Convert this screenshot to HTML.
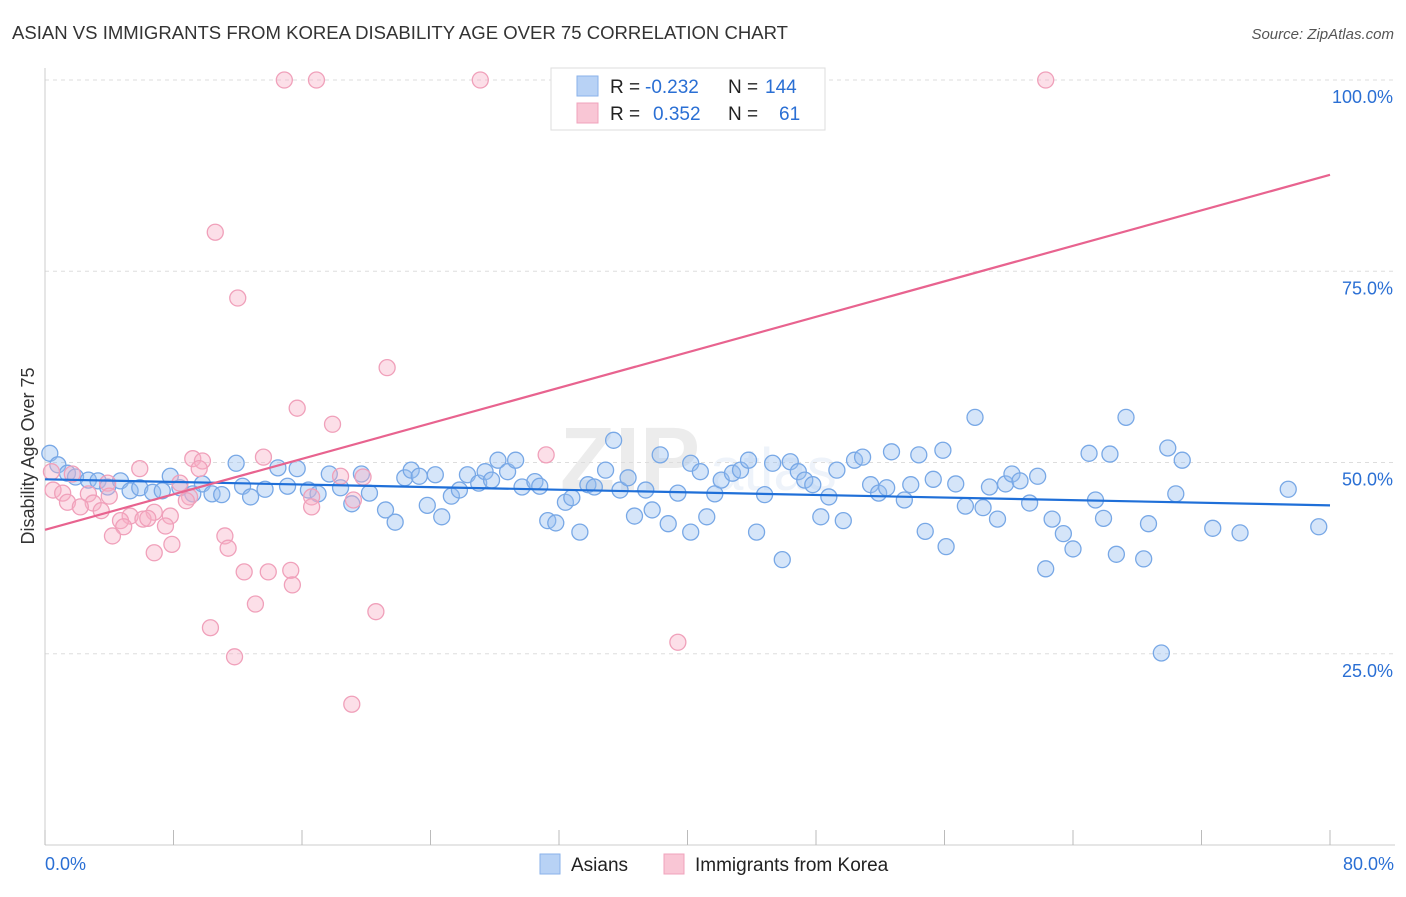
<!DOCTYPE html>
<html><head><meta charset="utf-8"><style>
body{margin:0;background:#fff;font-family:"Liberation Sans",sans-serif;}
svg text{font-family:"Liberation Sans",sans-serif;}
</style></head><body>
<svg id="chart" width="1406" height="892">
<text x="12" y="39" font-size="18" fill="#333" textLength="776" lengthAdjust="spacingAndGlyphs">ASIAN VS IMMIGRANTS FROM KOREA DISABILITY AGE OVER 75 CORRELATION CHART</text>
<text x="1394" y="39" font-size="15" fill="#555" text-anchor="end" font-style="italic">Source: ZipAtlas.com</text>
<text x="0" y="0" font-size="18" fill="#333" text-anchor="middle" transform="translate(34,456) rotate(-90)">Disability Age Over 75</text>
<text x="560" y="490" font-size="90" fill="#ececec" font-weight="bold" font-family="Liberation Serif">ZIP</text>
<text x="710" y="490" font-size="60" fill="#eef3fa">atlas</text>
<g id="grid"></g><g id="pts"></g><g id="lines"></g>
<g>
<rect x="551" y="68" width="274" height="62" fill="#fff" stroke="#ddd"/>
<rect x="577" y="76" width="21" height="20" fill="#b8d2f5" stroke="#8ab2ea"/>
<rect x="577" y="103" width="21" height="20" fill="#f9c6d5" stroke="#f0a3bc"/>
<text x="610" y="93" font-size="19" fill="#222">R =</text><text x="645" y="93" font-size="19" fill="#2a6fd4">-0.232</text>
<text x="728" y="93" font-size="19" fill="#222">N =</text><text x="765" y="93" font-size="19" fill="#2a6fd4">144</text>
<text x="610" y="120" font-size="19" fill="#222">R =</text><text x="653" y="120" font-size="19" fill="#2a6fd4">0.352</text>
<text x="728" y="120" font-size="19" fill="#222">N =</text><text x="779" y="120" font-size="19" fill="#2a6fd4">61</text>
</g>
<g>
<rect x="540" y="854" width="20" height="20" fill="#b8d2f5" stroke="#8ab2ea"/>
<text x="571" y="871" font-size="19" fill="#222">Asians</text>
<rect x="664" y="854" width="20" height="20" fill="#f9c6d5" stroke="#f0a3bc"/>
<text x="695" y="871" font-size="19" fill="#222">Immigrants from Korea</text>
</g>
</svg>
<script>
const yTicks=[25,50,75,100];
const xTickLabels=["0.0%","80.0%"];
const blueX=[0.3,0.8,1.4,1.9,2.7,3.3,3.9,4.7,5.3,5.9,6.7,7.3,7.8,8.4,9.2,9.8,10.4,11.0,11.9,12.3,12.8,13.7,14.5,15.1,15.7,16.4,17.0,17.7,18.4,19.1,19.7,20.2,21.2,21.8,22.4,22.8,23.3,23.8,24.3,24.7,25.3,25.8,26.3,27.0,27.4,27.8,28.2,28.8,29.3,29.7,30.5,30.8,31.3,31.8,32.4,32.8,33.3,33.8,34.2,34.9,35.4,35.8,36.3,36.7,37.4,37.8,38.3,38.8,39.4,40.2,40.2,40.8,41.2,41.7,42.1,42.8,43.3,43.8,44.3,44.8,45.3,45.9,46.4,46.9,47.3,47.8,48.3,48.8,49.3,49.7,50.4,50.9,51.4,51.9,52.4,52.7,53.5,53.9,54.4,54.8,55.3,55.9,56.1,56.7,57.3,57.9,58.4,58.8,59.3,59.8,60.2,60.7,61.3,61.8,62.3,62.7,63.4,64.0,65.0,65.4,65.9,66.3,66.7,67.3,68.4,68.7,69.5,69.9,70.4,70.8,72.7,74.4,77.4,79.3];
const blueY=[51.2,49.7,48.6,48.1,47.7,47.6,46.8,47.6,46.3,46.7,46.1,46.3,48.2,46.7,45.9,47.2,45.9,45.8,49.9,46.9,45.5,46.5,49.3,46.9,49.2,46.4,45.9,48.5,46.7,44.6,48.5,46.0,43.8,42.2,48.0,49.0,48.2,44.4,48.4,42.9,45.6,46.4,48.4,47.3,48.8,47.7,50.3,48.8,50.3,46.8,47.5,46.9,42.4,42.1,44.8,45.4,40.9,47.1,46.8,49.0,52.9,46.4,48.0,43.0,46.4,43.8,51.0,42.0,46.0,40.9,49.9,48.8,42.9,45.9,47.7,48.6,49.0,50.3,40.9,45.8,49.9,37.3,50.1,48.8,47.7,47.1,42.9,45.5,49.0,42.4,50.3,50.7,47.1,46.0,46.7,51.4,45.1,47.1,51.0,41.0,47.8,51.6,39.0,47.2,44.3,55.9,44.1,46.8,42.6,47.2,48.5,47.6,44.7,48.2,36.1,42.6,40.7,38.7,51.2,45.1,42.7,51.1,38.0,55.9,37.4,42.0,25.1,51.9,45.9,50.3,41.4,40.8,46.5,41.6];
const pinkX=[14.9,16.9,27.1,62.3,10.6,12.0,21.3,15.7,17.9,31.2,13.6,9.2,9.8,9.6,5.9,0.4,1.7,18.4,19.8,8.4,3.9,0.5,1.1,2.7,4.0,9.0,8.8,16.6,19.2,1.4,3.0,2.2,3.5,6.8,5.3,7.8,6.1,6.4,4.7,4.9,7.5,16.6,4.2,11.2,7.9,11.4,6.8,12.4,13.9,15.3,15.4,13.1,20.6,10.3,39.4,11.8,19.1];
const pinkY=[100,100,100,100,80.1,71.5,62.4,57.1,55.0,51.0,50.7,50.5,50.2,49.2,49.2,48.8,48.5,48.2,48.1,47.3,47.3,46.4,46.0,45.9,45.6,45.5,45.0,45.5,45.1,44.8,44.7,44.2,43.7,43.5,43.0,43.0,42.6,42.7,42.4,41.6,41.7,44.2,40.4,40.4,39.3,38.8,38.2,35.7,35.7,35.9,34.0,31.5,30.5,28.4,26.5,24.6,18.4];
const blueTrend=[47.8,44.4];
const pinkTrend=[41.2,87.6];
const NS="http://www.w3.org/2000/svg";
const sx=v=>45+v/80*1285, sy=v=>845-v*7.65;
function mk(t,a,p){const e=document.createElementNS(NS,t);for(const k in a)e.setAttribute(k,a[k]);p.appendChild(e);return e;}
const grid=document.getElementById('grid');
yTicks.forEach(t=>{
  const l=mk('line',{x1:45,x2:1395,y1:sy(t),y2:sy(t),stroke:'#ddd','stroke-dasharray':'4,4'},grid);
  
  
  const tx=mk('text',{x:1393,y:sy(t)+23,'font-size':18,fill:'#2a6fd4','text-anchor':'end'},grid);
  tx.textContent=t.toFixed(1)+'%';
  
  
});
const ax=mk('line',{x1:45,x2:45,y1:68,y2:845,stroke:'#ccc'},grid);


const bx=mk('line',{x1:45,x2:1395,y1:845,y2:845,stroke:'#ccc'},grid);


for(let i=0;i<=10;i++){
  const t=mk('line',{x1:sx(i*8),x2:sx(i*8),y1:830,y2:845,stroke:'#bbb'},grid);
  
  
}
[[0,xTickLabels[0],'start',45],[80,xTickLabels[1],'end',1394]].forEach(d=>{
  const tx=mk('text',{x:d[3],y:870,'font-size':18,fill:'#2a6fd4','text-anchor':d[2]},grid);
  tx.textContent=d[1];
  
  
});
const pts=document.getElementById('pts');
blueX.forEach((x,i)=>{
  const c=mk('circle',{cx:sx(x),cy:sy(blueY[i]),r:8,fill:'rgba(150,190,240,0.4)',stroke:'#78a8e6','stroke-width':1.3},pts);
  
  
});
pinkX.forEach((x,i)=>{
  const c=mk('circle',{cx:sx(x),cy:sy(pinkY[i]),r:8,fill:'rgba(248,175,198,0.4)',stroke:'#f0a0ba','stroke-width':1.3},pts);
  
  
});
const lines=document.getElementById('lines');
const bl=mk('line',{x1:sx(0),x2:sx(80),y1:sy(blueTrend[0]),y2:sy(blueTrend[1]),stroke:'#1f6fd8','stroke-width':2.2},lines);


const pl=mk('line',{x1:sx(0),x2:sx(80),y1:sy(pinkTrend[0]),y2:sy(pinkTrend[1]),stroke:'#e8638f','stroke-width':2.2},lines);


</script>
</body></html>
